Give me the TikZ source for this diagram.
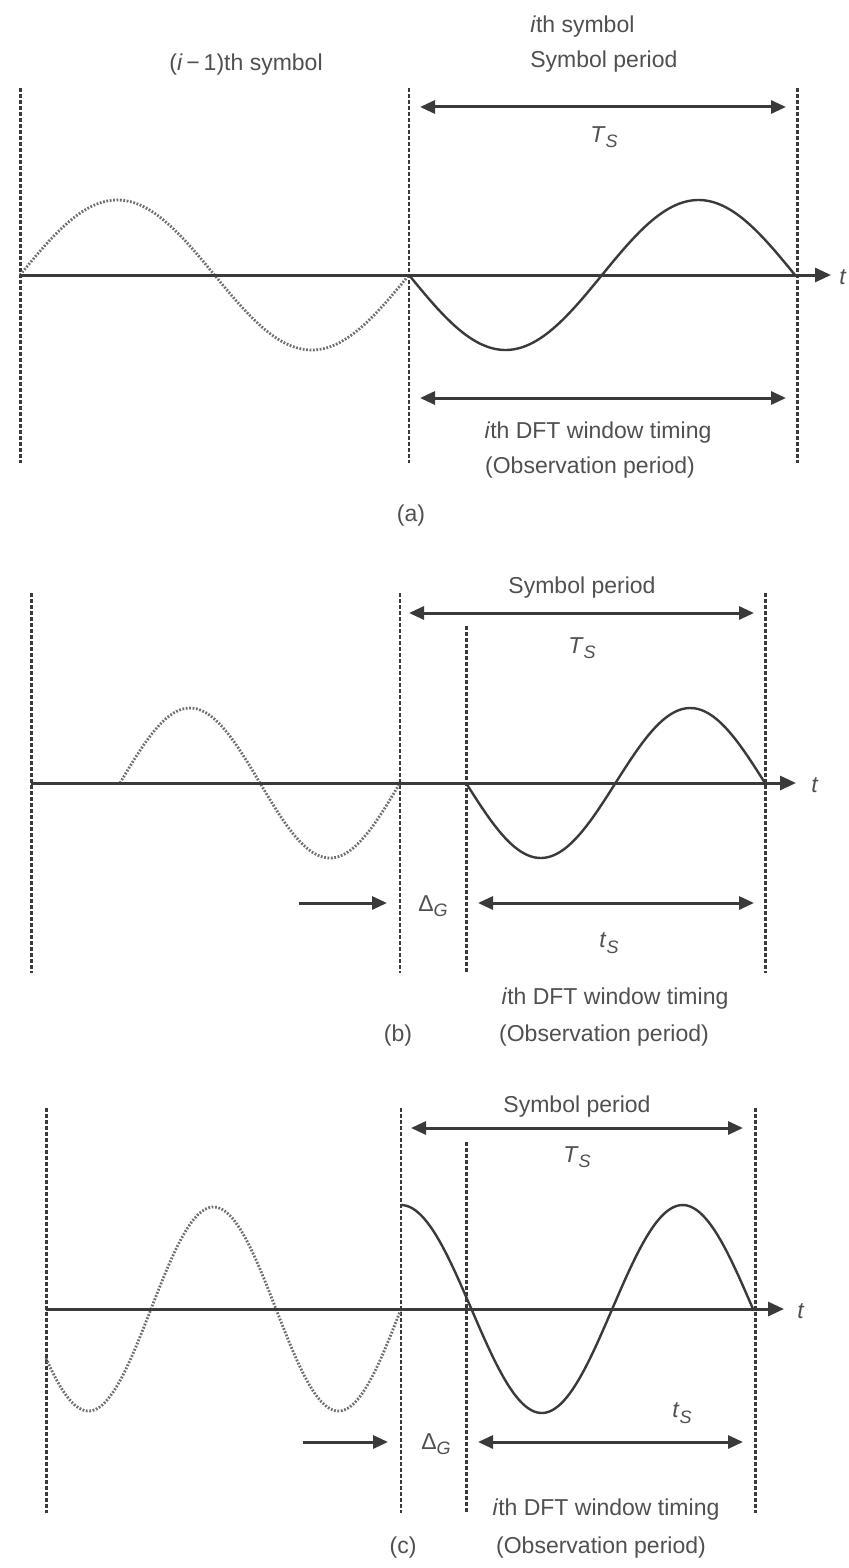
\documentclass[tikz,border=0pt]{standalone}
\usepackage{fontspec}
\setmainfont{Liberation Sans}
\usetikzlibrary{arrows.meta}
\definecolor{ink}{HTML}{3A3A3A}
\definecolor{txt}{HTML}{505050}
\definecolor{dotc}{HTML}{707070}
\newcommand{\sub}[1]{\raisebox{-0.45ex}{\fontsize{9}{9}\selectfont\textit{#1}}}
\tikzset{
  lbl/.style={font=\fontsize{11.5}{14}\selectfont, text=txt, inner sep=0pt},
  bnd/.style={draw=ink, line width=1.5pt, dash pattern=on 2pt off 1pt},
  bndthin/.style={draw=ink, line width=1.1pt, dash pattern=on 2pt off 1pt},
  axis/.style={draw=ink, line width=1.5pt, -{Triangle[length=8pt,width=7pt]}},
  dim/.style={draw=ink, line width=1.5pt, {Triangle[length=7.5pt,width=6.5pt]}-{Triangle[length=7.5pt,width=6.5pt]}},
  single/.style={draw=ink, line width=1.5pt, -{Triangle[length=7.5pt,width=6.5pt]}},
  wave/.style={draw=ink, line width=1.2pt},
  dotwave/.style={draw=dotc, line width=1.4pt, dash pattern=on 0.9pt off 0.8pt},
}
\begin{document}
\begin{tikzpicture}[x=0.5pt,y=-0.5pt]
\useasboundingbox (0,0) rectangle (849,1568);
\fill[white] (0,0) rectangle (849,1568);

%================ (a) ================
\coordinate (aL1) at (20,88);  \coordinate (aL1b) at (20,463);
\coordinate (aL2) at (409,88); \coordinate (aL2b) at (409,463);
\coordinate (aL3) at (797,88); \coordinate (aL3b) at (797,463);
\draw[bnd] (aL1) -- (aL1b);
\draw[bndthin] (aL2) -- (aL2b);
\draw[bnd] (aL3) -- (aL3b);
\draw[dotwave] plot[domain=20:409, samples=120] (\x, {275 - 75*sin(360/389*(\x-20))});
\draw[wave] plot[domain=409:795, samples=120] (\x, {275 + 75*sin(360/386*(\x-409))});
\coordinate (aax0) at (20,275); \coordinate (aax1) at (831,275);
\draw[axis] (aax0) -- (aax1);
\node[lbl, anchor=west] (at) at (839,277) {\textit{t}};
\coordinate (aT0) at (420,107); \coordinate (aT1) at (786,107);
\draw[dim] (aT0) -- (aT1);
\coordinate (aB0) at (420,398); \coordinate (aB1) at (786,398);
\draw[dim] (aB0) -- (aB1);
\node[lbl] (aprev) at (246,65) {(\textit{i}\,−\,1)th symbol};
\node[lbl, anchor=base west] (aith) at (530,33) {\textit{i}th symbol};
\node[lbl, anchor=base west] (asp) at (530,68) {Symbol period};
\node[lbl] (aTs) at (604,137) {\textit{T}\sub{S}};
\node[lbl] (adft) at (598,433) {\textit{i}th DFT window timing};
\node[lbl] (aobs) at (590,468) {(Observation period)};
\node[lbl] (acap) at (411,516) {(a)};

%================ (b) ================
\coordinate (bL1) at (31,593);  \coordinate (bL1b) at (31,973);
\coordinate (bL2) at (400,593); \coordinate (bL2b) at (400,973);
\coordinate (bL3) at (466,626); \coordinate (bL3b) at (466,973);
\coordinate (bL4) at (765,593); \coordinate (bL4b) at (765,973);
\draw[bnd] (bL1) -- (bL1b);
\draw[bndthin] (bL2) -- (bL2b);
\draw[bnd] (bL3) -- (bL3b);
\draw[bnd] (bL4) -- (bL4b);
\draw[dotwave] plot[domain=120:400, samples=100] (\x, {783 - 75*sin(360/280*(\x-120))});
\draw[wave] plot[domain=466:765, samples=100] (\x, {783 + 75*sin(360/299*(\x-466))});
\coordinate (bax0) at (31,783); \coordinate (bax1) at (796,783);
\draw[axis] (bax0) -- (bax1);
\node[lbl] (bt) at (815,785) {\textit{t}};
\coordinate (bT0) at (409,613); \coordinate (bT1) at (754,613);
\draw[dim] (bT0) -- (bT1);
\coordinate (bS0) at (299,903); \coordinate (bS1) at (387,903);
\draw[single] (bS0) -- (bS1);
\coordinate (bB0) at (478,903); \coordinate (bB1) at (754,903);
\draw[dim] (bB0) -- (bB1);
\node[lbl] (bsp) at (582,588) {Symbol period};
\node[lbl] (bTs) at (582,648) {\textit{T}\sub{S}};
\node[lbl] (bdg) at (433,906) {Δ\sub{G}};
\node[lbl] (bts) at (609,943) {\textit{t}\sub{S}};
\node[lbl] (bdft) at (615,999) {\textit{i}th DFT window timing};
\node[lbl] (bobs) at (604,1036) {(Observation period)};
\node[lbl] (bcap) at (398,1036) {(b)};

%================ (c) ================
\coordinate (cL1) at (46,1108);  \coordinate (cL1b) at (46,1513);
\coordinate (cL2) at (401,1108); \coordinate (cL2b) at (401,1513);
\coordinate (cL3) at (466,1142); \coordinate (cL3b) at (466,1513);
\coordinate (cL4) at (755,1108); \coordinate (cL4b) at (755,1513);
\draw[bnd] (cL1) -- (cL1b);
\draw[bndthin] (cL2) -- (cL2b);
\draw[bnd] (cL3) -- (cL3b);
\draw[bnd] (cL4) -- (cL4b);
\draw[dotwave] plot[domain=46:401, samples=140] (\x, {1309 + 102*sin(360/250*(\x-26))});
\draw[wave] plot[domain=401:753, samples=120] (\x, {1309 - 104*cos(360/281.6*(\x-401))});
\coordinate (cax0) at (46,1309); \coordinate (cax1) at (784,1309);
\draw[axis] (cax0) -- (cax1);
\node[lbl] (ct) at (801,1311) {\textit{t}};
\coordinate (cT0) at (411,1128); \coordinate (cT1) at (743,1128);
\draw[dim] (cT0) -- (cT1);
\coordinate (cS0) at (303,1442); \coordinate (cS1) at (388,1442);
\draw[single] (cS0) -- (cS1);
\coordinate (cB0) at (478,1442); \coordinate (cB1) at (743,1442);
\draw[dim] (cB0) -- (cB1);
\node[lbl] (csp) at (577,1107) {Symbol period};
\node[lbl] (cTs) at (577,1157) {\textit{T}\sub{S}};
\node[lbl] (cdg) at (436,1444) {Δ\sub{G}};
\node[lbl] (cts) at (682,1413) {\textit{t}\sub{S}};
\node[lbl] (cdft) at (606,1510) {\textit{i}th DFT window timing};
\node[lbl] (cobs) at (601,1548) {(Observation period)};
\node[lbl] (ccap) at (403,1548) {(c)};
\end{tikzpicture}
\end{document}
